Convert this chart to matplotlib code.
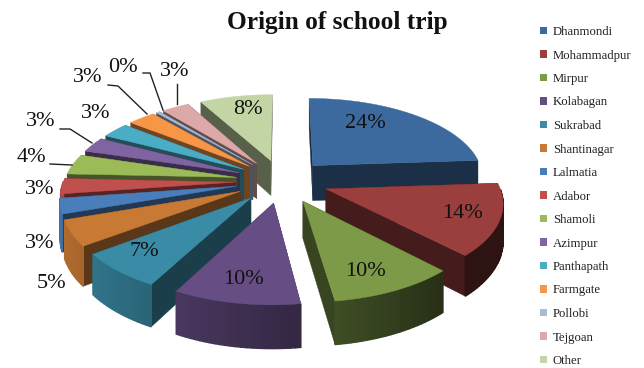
import numpy as np
import matplotlib
matplotlib.use("Agg")
import matplotlib.pyplot as plt
from matplotlib.patches import Patch

categories = ["Dhanmondi", "Mohammadpur", "Mirpur", "Kolabagan", "Sukrabad", "Shantinagar",
              "Lalmatia", "Adabor", "Shamoli", "Azimpur", "Panthapath", "Farmgate",
              "Pollobi", "Tejgoan", "Other"]
values = [24, 14, 10, 10, 7, 5, 3, 3, 4, 3, 3, 3, 0.4, 3, 8]
colors = ["#3C6A9E", "#9A3F3E", "#7D9A48", "#664E85", "#3A8CA6", "#C87A35",
          "#4A7EBB", "#C0504D", "#9BBB59", "#8064A2", "#4BACC6", "#F79646",
          "#A9BAD8", "#DCA9A8", "#C3D5A4"]
title = "Origin of school trip"

# label centres and leader lines (pixel space)
label_xy = [(365, 124), (462, 213), (365, 272), (243, 280), (144, 252), (52, 284), (40, 243),
            (40, 190), (31, 157), (41, 122), (96, 113), (88, 78), (123, 67), (175, 72), (248, 109)]
leaders = [[(50, 164), (72, 165)], [(60, 129), (70, 129), (92, 143)],
           [(108, 85), (118, 86), (147, 114)], [(143, 73), (150, 73), (163, 110)],
           [(177, 84), (177, 104)]]

SERIF = "Liberation Serif"
CX, CY, RX, RY, K, EXPLODE, DEPTH = 282, 181, 172, 80.5, 0.14, 0.27, 36

fig = plt.figure(figsize=(6.44, 3.68), dpi=100)
ax = fig.add_axes([0, 0, 1, 1])
ax.set_xlim(0, 644)
ax.set_ylim(368, 0)
ax.axis("off")


def project(px, py, z=0.0):
    s = 1 / (1 - K * py)
    return CX + RX * px * s, CY + RY * py * s + z * DEPTH * s


def shade(c, f):
    return tuple(float(v) * f for v in matplotlib.colors.to_rgb(c))


vals = np.array(values, dtype=float)
edges = np.concatenate([[0], np.cumsum(vals)]) / vals.sum() * 2 * np.pi
mids = (edges[:-1] + edges[1:]) / 2
order = np.argsort(-np.cos(mids))
z = 2
for i in order:
    a0, a1 = edges[i], edges[i + 1]
    m = mids[i]
    ox, oy = EXPLODE * np.sin(m), -EXPLODE * np.cos(m)
    th = np.linspace(a0, a1, max(3, int((a1 - a0) * 40)))
    arc = [(ox + np.sin(t), oy - np.cos(t)) for t in th]
    apex = (ox, oy)
    # radial walls
    walls = sorted([(a0, arc[0]), (a1, arc[-1])], key=lambda w: w[1][1])
    for _, tip in walls:
        q = [project(*apex), project(*tip), project(*tip, 1), project(*apex, 1)]
        ax.fill(*zip(*q), color=shade(colors[i], 0.45), lw=0.3, zorder=z)
        z += 1
    # rim, lit from the left
    for p, q_, t in zip(arc[:-1], arc[1:], (th[:-1] + th[1:]) / 2):
        if np.cos(t) < 0:
            f = np.clip(0.55 - 0.35 * np.sin(t), 0.3, 0.95)
            q = [project(*p), project(*q_), project(*q_, 1), project(*p, 1)]
            ax.fill(*zip(*q), color=shade(colors[i], f), lw=1.0, zorder=z)
    z += 1
    top = [project(*apex)] + [project(*p) for p in arc]
    ax.fill(*zip(*top), color=colors[i], lw=0.3, zorder=z)
    z += 1

for line in leaders:
    ax.plot(*zip(*line), color="#222222", lw=1.0, zorder=z)
z += 1
for v, (x, y) in zip(values, label_xy):
    ax.text(x, y, f"{round(v)}%", family=SERIF, fontsize=16, color="#111111",
            ha="center", va="center", zorder=z)

ax.text(337, 22, title, family=SERIF, fontsize=18.3, fontweight="bold", color="#111111",
        ha="center", va="center")

handles = [Patch(facecolor=c, label=n) for c, n in zip(colors, categories)]
ax.legend(handles=handles, loc="upper left", bbox_to_anchor=(540 / 644, 1 - 26 / 368),
          frameon=False, prop={"family": SERIF, "size": 9.2}, labelspacing=0.9,
          handlelength=0.55, handleheight=0.55, handletextpad=0.45, borderpad=0, borderaxespad=0,
          labelcolor="#222222")

fig.savefig("out.png", dpi=100)
